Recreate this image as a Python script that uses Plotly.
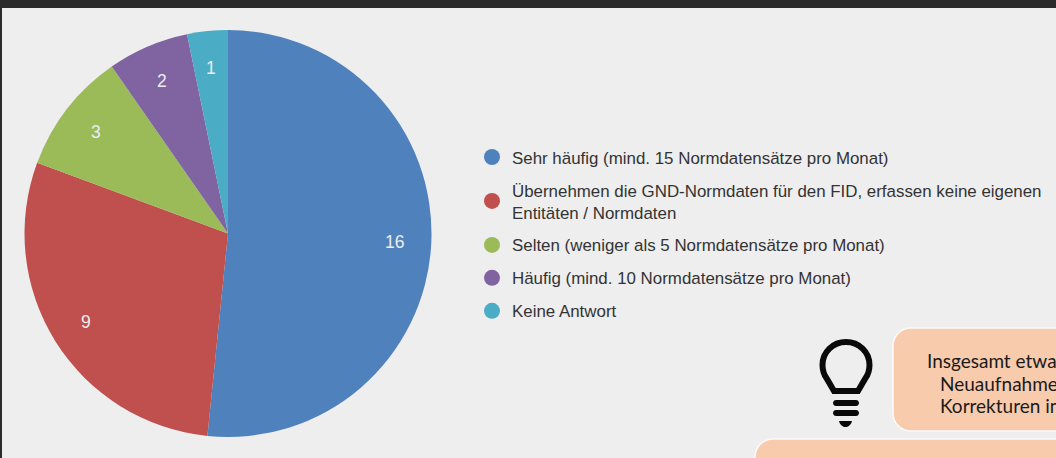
import math
import plotly.graph_objects as go

categories = [
    "Sehr häufig (mind. 15 Normdatensätze pro Monat)",
    "Übernehmen die GND-Normdaten für den FID, erfassen keine eigenen<br>Entitäten / Normdaten",
    "Selten (weniger als 5 Normdatensätze pro Monat)",
    "Häufig (mind. 10 Normdatensätze pro Monat)",
    "Keine Antwort",
]
values = [16, 9, 3, 2, 1]
colors = ["#4F81BD", "#C0504D", "#9BBB59", "#8064A2", "#4BACC6"]
W, H = 1056, 458
cx, cy, R = 228, 233.5, 203.5

fig = go.Figure()
fig.add_trace(go.Pie(
    values=values, labels=categories, sort=False, direction="clockwise", rotation=0,
    marker=dict(colors=colors, line=dict(width=0)),
    textinfo="none",
    domain=dict(x=[(cx - R) / W, (cx + R) / W], y=[1 - (cy + R) / H, 1 - (cy - R) / H]),
    showlegend=False,
))
for i, (name, col) in enumerate(zip(categories, colors)):
    fig.add_trace(go.Scatter(
        x=[None], y=[None], mode="markers", name=name, legendgroup=str(i),
        marker=dict(color=col, size=16, symbol="circle"),
    ))

BULB = "#0a0a0a"
shapes = [
    dict(type="rect", x0=0, x1=W, y0=0, y1=8, fillcolor="#2B2B2B", line_width=0),
    dict(type="rect", x0=0, x1=2, y0=0, y1=H, fillcolor="#2B2B2B", line_width=0),
    dict(type="path", path="M 1070 328 L 911 328 C 901 328 893 336 893 346 L 893 413 C 893 423 901 431 911 431 L 1070 431 Z",
         fillcolor="#F8CBAD", line=dict(color="#FAFAFA", width=1.5)),
    dict(type="path", path="M 1070 439 L 773 439 C 763 439 755 447 755 457 L 755 470 L 1070 470 Z",
         fillcolor="#F8CBAD", line=dict(color="#FAFAFA", width=1.5)),
    dict(type="path", path="M 834 391 L 827 379 C 824 375 822.5 370 822.5 365 C 822.5 352 833 342 846 342 "
                           "C 859 342 869.5 352 869.5 365 C 869.5 370 868 375 865 379 L 858 391 Z",
         line=dict(color=BULB, width=6), fillcolor="rgba(0,0,0,0)"),
    dict(type="path", path="M 836 400 L 856 400 C 860 400 860 406 856 406 L 836 406 C 832 406 832 400 836 400 Z",
         fillcolor=BULB, line_width=0),
    dict(type="path", path="M 836 410 L 856 410 C 860 410 860 416 856 416 L 836 416 C 832 416 832 410 836 410 Z",
         fillcolor=BULB, line_width=0),
    dict(type="path", path="M 839 421 L 852 421 C 851 425 848 427 845.5 427 C 843 427 840 425 839 421 Z",
         fillcolor=BULB, line_width=0),
]

box_text = [("Insgesamt etwa", 925, 360), ("Neuaufnahme", 938, 383), ("Korrekturen in", 938, 405)]
annotations = [
    dict(text=t, x=x, y=y, xref="x", yref="y", xanchor="left", yanchor="middle", showarrow=False,
         font=dict(family="Lato", size=19, color="#1A1A1A"))
    for t, x, y in box_text
]
# value labels sit at a fixed fraction of the radius, at each slice's mid-angle
total = sum(values)
running = 0
for v in values:
    a = 2 * math.pi * (running + v / 2) / total
    running += v
    annotations.append(dict(
        text=str(v), x=cx + 0.82 * R * math.sin(a), y=cy - 0.82 * R * math.cos(a) + 0.5,
        xref="x", yref="y", showarrow=False,
        font=dict(family="Liberation Sans", size=17.5, color="#EDEDED"),
    ))

fig.update_layout(
    width=W, height=H, margin=dict(l=0, r=0, t=0, b=0),
    paper_bgcolor="#EEEEEE", plot_bgcolor="#EEEEEE",
    xaxis=dict(range=[0, W], visible=False, domain=[0, 1]),
    yaxis=dict(range=[H, 0], visible=False, domain=[0, 1]),
    shapes=shapes, annotations=annotations,
    font=dict(family="Liberation Sans", color="#333333"),
    legend=dict(x=472 / W, y=1 - 139.5 / H, xanchor="left", yanchor="top", bgcolor="rgba(0,0,0,0)",
                font=dict(size=16.9, color="#333333"), tracegroupgap=8, itemsizing="trace"),
)
fig.write_html("out.html", config=dict(displayModeBar=False),
               post_script="document.body.style.margin='0';document.body.style.overflow='hidden';")
